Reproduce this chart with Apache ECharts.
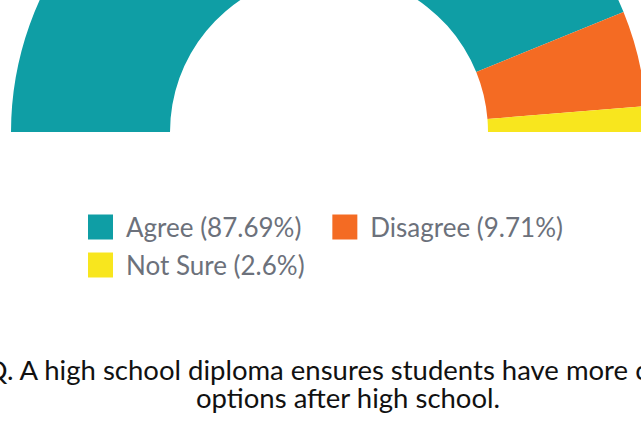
<!DOCTYPE html>
<html>
<head>
<meta charset="utf-8">
<script src="https://cdn.jsdelivr.net/npm/echarts@6/dist/echarts.min.js"></script>
<style>
html,body{margin:0;padding:0;background:#fff;}
#chart{width:641px;height:422px;}
</style>
</head>
<body>
<div id="chart"></div>
<script>
var categories = ['Agree', 'Disagree', 'Not Sure'];
var values = [87.69, 9.71, 2.6];
var colors = ['#0f9ea5', '#f46b23', '#f8e61e'];
var titleText = 'Q. A high school diploma ensures students have more career\noptions after high school.';

var chart = echarts.init(document.getElementById('chart'), null, {renderer: 'svg'});
var data = categories.map(function (c, i) {
  return {name: c, value: values[i], itemStyle: {color: colors[i]}};
});
function fmt(name) {
  var i = categories.indexOf(name);
  return name + ' (' + values[i] + '%)';
}
var legendCommon = {
  orient: 'horizontal',
  itemWidth: 25,
  itemHeight: 25,
  itemGap: 31,
  icon: 'rect',
  formatter: fmt,
  selectedMode: false,
  textStyle: {fontFamily: 'Lato', fontSize: 26, color: '#6c717b', padding: [0, 0, 0, 8]}
};
chart.setOption({
  animation: false,
  backgroundColor: '#fff',
  legend: [
    Object.assign({}, legendCommon, {left: 83, top: 209, data: ['Agree', 'Disagree']}),
    Object.assign({}, legendCommon, {left: 83, top: 247, data: ['Not Sure']})
  ],
  graphic: [{
    type: 'text',
    x: 348,
    y: 355,
    style: {
      text: titleText,
      textAlign: 'center',
      fontFamily: 'Lato',
      fontSize: 27.5,
      lineHeight: 28,
      fill: '#111'
    }
  }],
  series: [{
    type: 'pie',
    center: [329, 132],
    radius: [159, 318],
    startAngle: 180,
    endAngle: 0,
    clockwise: true,
    label: {show: false},
    labelLine: {show: false},
    emphasis: {disabled: true},
    itemStyle: {borderWidth: 0},
    data: data
  }]
});
</script>
</body>
</html>
